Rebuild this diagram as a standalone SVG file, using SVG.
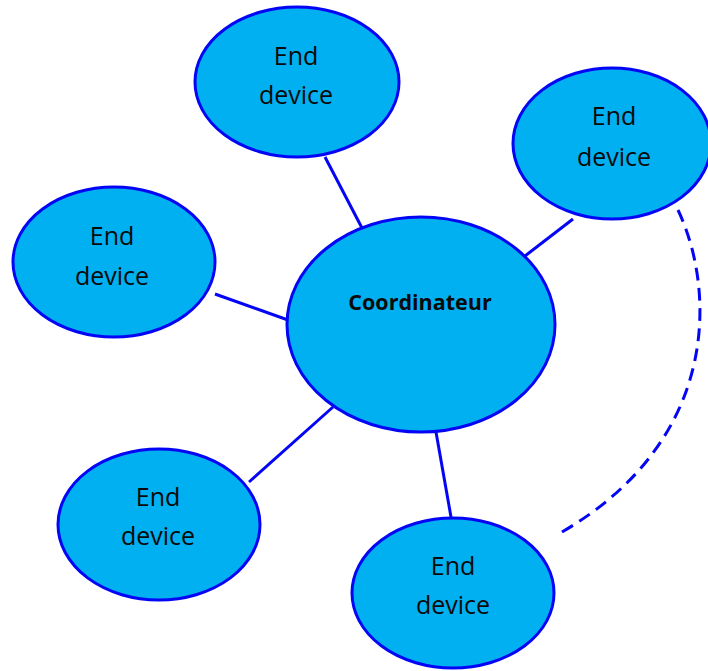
<svg xmlns="http://www.w3.org/2000/svg" width="708" height="671" viewBox="0 0 708 671">
  <style>
    .node { fill: #00B0F0; stroke: #0505F5; stroke-width: 3; }
    .link { stroke: #0505F5; stroke-width: 3; fill: none; }
    .dash { stroke: #0505F5; stroke-width: 3; fill: none; stroke-dasharray: 13.5 8; }
    .lbl { font-family: "Open Sans", "Liberation Sans", sans-serif; font-size: 25px; fill: #0a0a0a; text-anchor: middle; }
    .coord { font-family: "Open Sans", "Liberation Sans", sans-serif; font-size: 21.5px; font-weight: bold; fill: #0a0a0a; text-anchor: middle; }
  </style>
  <rect width="708" height="671" fill="#ffffff"/>

  <!-- star links to the coordinator, plus the dashed optional link -->
  <g id="connectors">
    <line class="link" x1="325" y1="157" x2="362" y2="228"/>
    <line class="link" x1="573" y1="219" x2="525" y2="256"/>
    <line class="link" x1="215" y1="294" x2="288" y2="320"/>
    <line class="link" x1="249" y1="482" x2="333" y2="407"/>
    <line class="link" x1="436" y1="432" x2="451" y2="517"/>
    <path class="dash" pathLength="400.5" d="M678,210 C716,290 720,440 562,532"/>
  </g>

  <g id="coordinateur">
    <ellipse class="node" cx="421" cy="324.5" rx="134" ry="107.5"/>
    <text class="coord" x="420" y="310">Coordinateur</text>
  </g>

  <g id="end-top">
    <ellipse class="node" cx="297" cy="82" rx="102" ry="75"/>
    <text class="lbl" x="296" y="65">End</text>
    <text class="lbl" x="296" y="104">device</text>
  </g>

  <g id="end-right">
    <ellipse class="node" cx="612" cy="143.5" rx="99" ry="75.5"/>
    <text class="lbl" x="614" y="125">End</text>
    <text class="lbl" x="614" y="166">device</text>
  </g>

  <g id="end-left">
    <ellipse class="node" cx="114" cy="262" rx="101" ry="75"/>
    <text class="lbl" x="112" y="245">End</text>
    <text class="lbl" x="112" y="285">device</text>
  </g>

  <g id="end-bottom-left">
    <ellipse class="node" cx="159" cy="524.5" rx="101" ry="75.5"/>
    <text class="lbl" x="158" y="506">End</text>
    <text class="lbl" x="158" y="545">device</text>
  </g>

  <g id="end-bottom">
    <ellipse class="node" cx="453" cy="593" rx="101" ry="75"/>
    <text class="lbl" x="453" y="575">End</text>
    <text class="lbl" x="453" y="614">device</text>
  </g>
</svg>
